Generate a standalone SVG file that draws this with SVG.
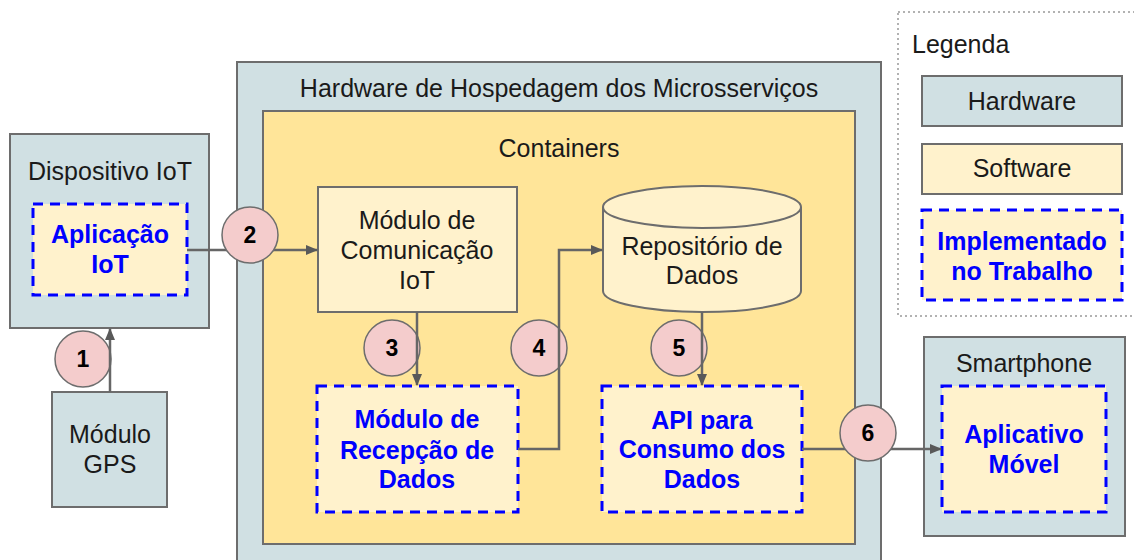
<svg xmlns="http://www.w3.org/2000/svg" width="1134" height="560" viewBox="0 0 1134 560">
  <style>
    text { font-family: "Liberation Sans", Arial, sans-serif; font-size: 25px; fill: #1a1a1a; text-anchor: middle; }
    .impl-text { font-weight: bold; fill: #0000ff; }
    .num { font-weight: bold; font-size: 23px; fill: #000; }
    .hw { fill: #d0e0e3; stroke: #6d6d6d; stroke-width: 2; }
    .sw { fill: #fff2cc; stroke: #6d6d6d; stroke-width: 2; }
    .ctr { fill: #ffe599; stroke: #6d6d6d; stroke-width: 2; }
    .impl { fill: #fff2cc; stroke: #0000ff; stroke-width: 3; stroke-dasharray: 10 7; }
    .badge { fill: #f4cccc; stroke: #6d6d6d; stroke-width: 1.5; }
    .link { fill: none; stroke: #666; stroke-width: 2.5; }
  </style>
  <defs>
    <marker id="arrow" viewBox="0 0 12 10" refX="11" refY="5" markerWidth="12" markerHeight="10" markerUnits="userSpaceOnUse" orient="auto">
      <path d="M0,0 L12,5 L0,10 z" fill="#595959"/>
    </marker>
  </defs>

  <rect width="1134" height="560" fill="#ffffff"/>

  <!-- legend -->
  <g id="legend">
    <rect x="898" y="12" width="250" height="304" fill="none" stroke="#999" stroke-width="1.5" stroke-dasharray="2 3"/>
    <text x="912" y="53" style="text-anchor:start">Legenda</text>
    <rect class="hw" x="922" y="76" width="200" height="50"/>
    <text x="1022" y="110">Hardware</text>
    <rect class="sw" x="922" y="144" width="200" height="50"/>
    <text x="1022" y="177">Software</text>
    <rect class="impl" x="922" y="210" width="200" height="90"/>
    <text class="impl-text" x="1022" y="250">Implementado</text>
    <text class="impl-text" x="1022" y="280">no Trabalho</text>
  </g>

  <!-- IoT device -->
  <g id="dispositivo-iot">
    <rect class="hw" x="10" y="134" width="199" height="194"/>
    <text x="110" y="180">Dispositivo IoT</text>
  </g>
  <g id="aplicacao-iot">
    <rect class="impl" x="33" y="204" width="154" height="91"/>
    <text class="impl-text" x="110" y="243">Aplicação</text>
    <text class="impl-text" x="110" y="273">IoT</text>
  </g>
  <g id="modulo-gps">
    <rect class="hw" x="52" y="392" width="115" height="115"/>
    <text x="110" y="443">Módulo</text>
    <text x="110" y="473">GPS</text>
  </g>

  <!-- host hardware and containers -->
  <g id="hardware-hospedagem">
    <rect class="hw" x="237" y="62" width="644" height="520"/>
    <text x="559" y="97">Hardware de Hospedagem dos Microsserviços</text>
  </g>
  <g id="containers">
    <rect class="ctr" x="263" y="111" width="592" height="433"/>
    <text x="559" y="157">Containers</text>
  </g>
  <g id="modulo-comunicacao">
    <rect class="sw" x="318" y="187" width="199" height="125"/>
    <text x="417" y="229">Módulo de</text>
    <text x="417" y="259">Comunicação</text>
    <text x="417" y="289">IoT</text>
  </g>
  <g id="repositorio">
    <path class="sw" d="M603,207 L603,291 A99,21 0 0 0 801,291 L801,207 A99,21 0 0 0 603,207 Z"/>
    <path d="M603,207 A99,21 0 0 0 801,207" fill="none" stroke="#6d6d6d" stroke-width="2"/>
    <text x="702" y="255">Repositório de</text>
    <text x="702" y="284">Dados</text>
  </g>
  <g id="modulo-recepcao">
    <rect class="impl" x="317" y="386" width="201" height="126"/>
    <text class="impl-text" x="417" y="428">Módulo de</text>
    <text class="impl-text" x="417" y="459">Recepção de</text>
    <text class="impl-text" x="417" y="488">Dados</text>
  </g>
  <g id="api-consumo">
    <rect class="impl" x="602" y="386" width="200" height="126"/>
    <text class="impl-text" x="702" y="429">API para</text>
    <text class="impl-text" x="702" y="458">Consumo dos</text>
    <text class="impl-text" x="702" y="488">Dados</text>
  </g>

  <!-- smartphone -->
  <g id="smartphone">
    <rect class="hw" x="924" y="337" width="201" height="199"/>
    <text x="1024" y="372">Smartphone</text>
  </g>
  <g id="aplicativo-movel">
    <rect class="impl" x="942" y="386" width="164" height="126"/>
    <text class="impl-text" x="1024" y="443">Aplicativo</text>
    <text class="impl-text" x="1024" y="473">Móvel</text>
  </g>

  <!-- step badges beside vertical links -->
  <g id="passo-1"><circle class="badge" cx="83" cy="359" r="28"/><text class="num" x="83" y="367">1</text></g>
  <g id="passo-3"><circle class="badge" cx="392" cy="348" r="28"/><text class="num" x="392" y="356">3</text></g>
  <g id="passo-4"><circle class="badge" cx="539" cy="348" r="28"/><text class="num" x="539" y="356">4</text></g>
  <g id="passo-5"><circle class="badge" cx="679" cy="348" r="28"/><text class="num" x="679" y="356">5</text></g>

  <!-- data flow -->
  <g id="connectors">
    <path class="link" d="M110,392 L110,329" marker-end="url(#arrow)"/>
    <path class="link" d="M187,250 L317,250" marker-end="url(#arrow)"/>
    <path class="link" d="M417,312 L417,385" marker-end="url(#arrow)"/>
    <path class="link" d="M518,449 L559,449 L559,250 L602,250" marker-end="url(#arrow)"/>
    <path class="link" d="M702,312 L702,385" marker-end="url(#arrow)"/>
    <path class="link" d="M802,449 L941,449" marker-end="url(#arrow)"/>
  </g>

  <!-- step badges sitting on horizontal links -->
  <g id="passo-2"><circle class="badge" cx="250" cy="235" r="28"/><text class="num" x="250" y="243">2</text></g>
  <g id="passo-6"><circle class="badge" cx="868" cy="433" r="28"/><text class="num" x="868" y="441">6</text></g>
</svg>
